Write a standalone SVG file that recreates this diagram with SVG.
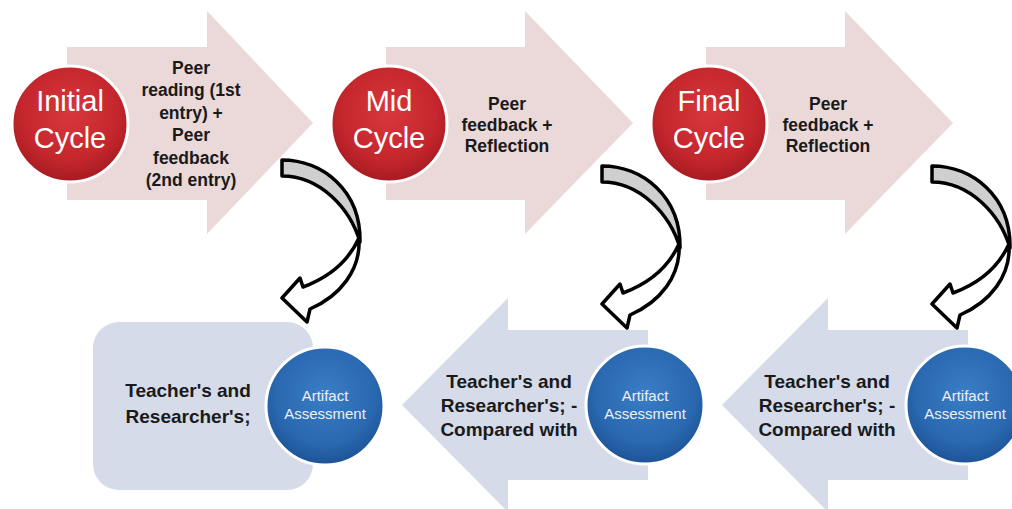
<svg xmlns="http://www.w3.org/2000/svg" width="1012" height="509" viewBox="0 0 1012 509">
<defs>
<radialGradient id="red" cx="50%" cy="40%" r="60%">
<stop offset="0" stop-color="#d8383d"/>
<stop offset="0.7" stop-color="#c3262c"/>
<stop offset="1" stop-color="#a51b21"/>
</radialGradient>
<radialGradient id="blue" cx="50%" cy="40%" r="60%">
<stop offset="0" stop-color="#3a7dc6"/>
<stop offset="0.7" stop-color="#2a68b0"/>
<stop offset="1" stop-color="#1d5396"/>
</radialGradient>
<path id="curve-gray" d="M0,0 C40,0 79,30 78,82 C68,48 38,16 0,16 Z"/>
<path id="curve-white" d="M77,78 C79,110 58,136 28,149 L25,162 L0,138 L18,118 L21,127 C48,117 67,100 77,78 Z"/>
</defs>
<style>
.top-arrow{fill:#ebd9d9}
.bot-shape{fill:#d5dbe8}
.red{fill:url(#red);stroke:#ffffff;stroke-width:3}
.blue{fill:url(#blue);stroke:#ffffff;stroke-width:3}
.ctitle{font-family:"Liberation Sans",Arial,sans-serif;font-size:29px;fill:#ffffff;text-anchor:middle}
.ttext{font-family:"Liberation Sans",Arial,sans-serif;font-size:17.5px;font-weight:bold;fill:#1a1a1a;text-anchor:middle}
.btext{font-family:"Liberation Sans",Arial,sans-serif;font-size:19px;font-weight:bold;fill:#1a1a1a;text-anchor:middle}
.atext{font-family:"Liberation Sans",Arial,sans-serif;font-size:15px;fill:#eaf0f8;text-anchor:middle}
.cg{fill:#cfcfcf;stroke:#000000;stroke-width:3.5;stroke-linejoin:round}
.cw{fill:#ffffff;stroke:#000000;stroke-width:3.5;stroke-linejoin:round}
</style>
<rect width="1012" height="509" fill="#ffffff"/>

<g id="initial-cycle">
<path class="top-arrow" d="M67,47 L207,47 L207,11 L313,123 L207,234 L207,200 L67,200 Z"/>
<circle class="red" cx="70" cy="124" r="58"/>
<text class="ctitle" x="70" y="111">Initial</text>
<text class="ctitle" x="70" y="148">Cycle</text>
<text class="ttext" x="191" y="74">Peer</text>
<text class="ttext" x="191" y="96">reading (1st</text>
<text class="ttext" x="191" y="119">entry) +</text>
<text class="ttext" x="191" y="141">Peer</text>
<text class="ttext" x="191" y="164">feedback</text>
<text class="ttext" x="191" y="186">(2nd entry)</text>
</g>

<g id="mid-cycle">
<path class="top-arrow" d="M386,47 L525,47 L525,11 L633,123 L525,234 L525,200 L386,200 Z"/>
<circle class="red" cx="389" cy="124" r="58"/>
<text class="ctitle" x="389" y="111">Mid</text>
<text class="ctitle" x="389" y="148">Cycle</text>
<text class="ttext" x="507" y="110">Peer</text>
<text class="ttext" x="507" y="131">feedback +</text>
<text class="ttext" x="507" y="152">Reflection</text>
</g>

<g id="final-cycle">
<path class="top-arrow" d="M706,47 L845,47 L845,11 L953,123 L845,234 L845,200 L706,200 Z"/>
<circle class="red" cx="709" cy="124" r="58"/>
<text class="ctitle" x="709" y="111">Final</text>
<text class="ctitle" x="709" y="148">Cycle</text>
<text class="ttext" x="828" y="110">Peer</text>
<text class="ttext" x="828" y="131">feedback +</text>
<text class="ttext" x="828" y="152">Reflection</text>
</g>

<g id="assessment-initial">
<rect class="bot-shape" x="93" y="322" width="220" height="168" rx="26"/>
<circle class="blue" cx="325" cy="406" r="59"/>
<text class="btext" x="188" y="397">Teacher's and</text>
<text class="btext" x="188" y="423">Researcher's;</text>
<text class="atext" x="325" y="401">Artifact</text>
<text class="atext" x="325" y="419">Assessment</text>
</g>

<g id="assessment-mid">
<path class="bot-shape" d="M648,330 L508,330 L508,298 L402,405 L508,512 L508,480 L648,480 Z"/>
<circle class="blue" cx="645" cy="405" r="59"/>
<text class="btext" x="509" y="388">Teacher's and</text>
<text class="btext" x="509" y="412">Researcher's; -</text>
<text class="btext" x="509" y="436">Compared with</text>
<text class="atext" x="645" y="401">Artifact</text>
<text class="atext" x="645" y="419">Assessment</text>
</g>

<g id="assessment-final">
<path class="bot-shape" d="M968,330 L828,330 L828,298 L722,405 L828,512 L828,480 L968,480 Z"/>
<circle class="blue" cx="965" cy="405" r="59"/>
<text class="btext" x="827" y="388">Teacher's and</text>
<text class="btext" x="827" y="412">Researcher's; -</text>
<text class="btext" x="827" y="436">Compared with</text>
<text class="atext" x="965" y="401">Artifact</text>
<text class="atext" x="965" y="419">Assessment</text>
</g>

<g id="connectors">
<g transform="translate(282,160)">
<use href="#curve-gray" class="cg"/>
<use href="#curve-white" class="cw"/>
</g>
<g transform="translate(602,166)">
<use href="#curve-gray" class="cg"/>
<use href="#curve-white" class="cw"/>
</g>
<g transform="translate(932,166)">
<use href="#curve-gray" class="cg"/>
<use href="#curve-white" class="cw"/>
</g>
</g>
</svg>
